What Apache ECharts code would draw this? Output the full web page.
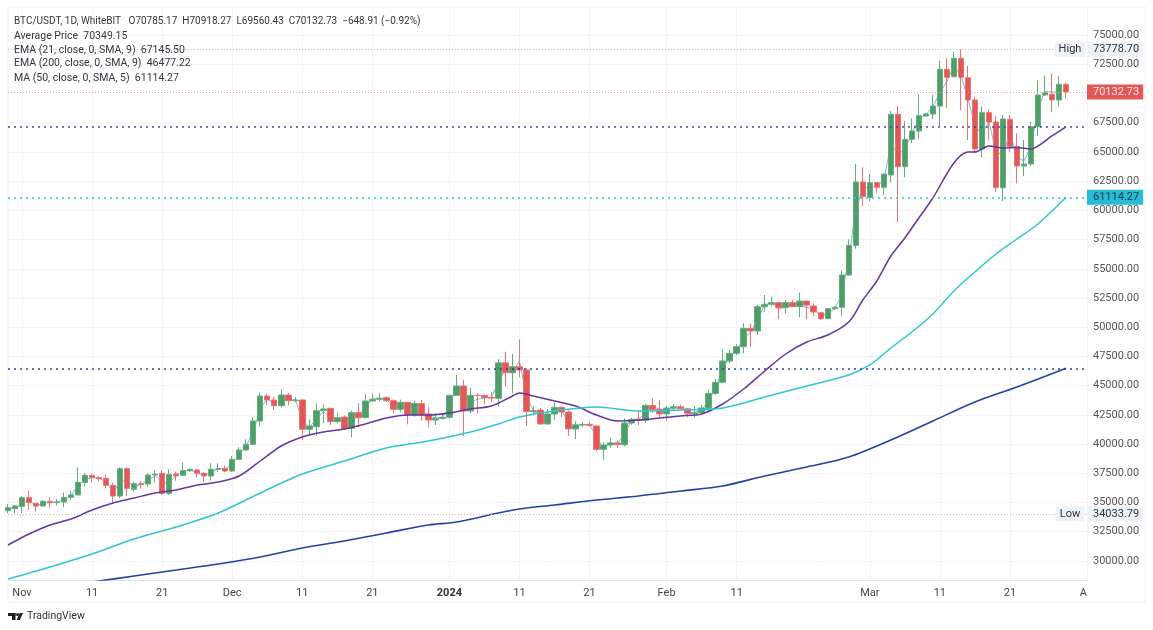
<!DOCTYPE html>
<html>
<head>
<meta charset="utf-8">
<title>BTC/USDT</title>
<script src="https://cdn.jsdelivr.net/npm/echarts@6/dist/echarts.min.js"></script>
<style>
    html, body { margin: 0; padding: 0; background: #fff; }
    #main { width: 1153px; height: 630px; }
</style>
</head>
<body>
<div id="main"></div>
<script>
// daily candles, Oct 30 2023 to Mar 29 2024
var opens = [
    34300, 34473, 34672, 35414, 34929, 34700, 35100, 34990, 35043, 35442, 35642, 36726, 37325, 37130, 37068, 36470,
    35557, 37895, 36130, 36612, 36583, 37353, 37496, 35785, 37440, 37325, 37724, 37781, 37496, 37268, 37838, 37924,
    37695, 38694, 39492, 39977, 41973, 44113, 43770, 43285, 44198, 43713, 43770, 41260, 41488, 42858, 43057, 41916,
    42316, 41346, 42686, 42259, 43685, 43827, 43970, 43713, 42972, 43571, 42487, 43457, 42573, 42059, 42195, 42287,
    44170, 44969, 42830, 44170, 44160, 43990, 43910, 46950, 46100, 46620, 46340, 42770, 42915, 41717, 42572, 43140,
    42740, 41290, 41640, 41690, 41545, 39550, 39920, 40100, 39940, 41800, 42120, 42030, 43300, 42960, 42580, 43080,
    43190, 43020, 42590, 42700, 43058, 44340, 45283, 47108, 47764, 48334, 49900, 49675, 51756, 51956, 52100, 51670,
    52100, 51756, 52240, 51814, 51243, 50730, 51586, 51700, 54466, 57000, 62423, 61111, 62366, 61966, 63021, 68212,
    63734, 66073, 66786, 68070, 68240, 68925, 72060, 71435, 73003, 71350, 69438, 65246, 68355, 67556, 61937, 67784,
    65446, 63792, 63963, 67157, 69866, 69923, 69438, 70785.17
];
var closes = [
    34560, 34700, 35414, 34986, 34700, 35100, 34990, 35050, 35442, 35642, 36726, 37325, 37130, 37040, 36470, 35557,
    37895, 36212, 36612, 36530, 37353, 37440, 35785, 37410, 37270, 37724, 37840, 37496, 37268, 37838, 37880, 37695,
    38694, 39492, 39977, 41973, 44113, 43770, 43285, 44198, 43713, 43770, 41260, 41546, 42858, 43000, 41916, 42259,
    41346, 42686, 42259, 43685, 43827, 43915, 43713, 42972, 43571, 42487, 43485, 42487, 42059, 42195, 42287, 44170,
    44970, 42830, 44170, 44160, 43990, 43930, 46950, 46100, 46620, 46340, 42770, 42860, 41717, 42572, 43140, 42740,
    41300, 41650, 41680, 41600, 39550, 39920, 40100, 39940, 41800, 42120, 42030, 43300, 42960, 42580, 43080, 43190,
    43020, 42590, 42700, 43090, 44340, 45283, 47108, 47764, 48334, 49900, 49675, 51756, 51956, 52100, 51670, 52100,
    51756, 52240, 51890, 51300, 50730, 51586, 51700, 54466, 57000, 62423, 61170, 62366, 61966, 63107, 68212, 63734,
    66073, 66786, 68098, 68240, 68925, 72060, 71378, 73003, 71378, 69438, 65246, 68355, 67556, 61937, 67813, 65446,
    63792, 63963, 67157, 69866, 70066, 69438, 70779, 70132.73
];
var lows = [
    34080, 34080, 34080, 34360, 34220, 34680, 34500, 34750, 34590, 35200, 35640, 36350, 36700, 36800, 36210, 35000,
    35360, 35557, 35930, 36200, 36350, 36700, 35640, 35640, 36870, 37250, 37600, 37150, 36780, 36870, 37640, 37580,
    37640, 38650, 39440, 39950, 41490, 43340, 42915, 43115, 43340, 43570, 40348, 40780, 40690, 41800, 41630, 41770,
    41200, 40576, 41430, 42200, 43630, 43630, 43600, 42687, 42772, 41688, 42345, 42000, 41430, 41630, 42115, 42180,
    44150, 40690, 42600, 42630, 43400, 43600, 43200, 44910, 44340, 45700, 41550, 42450, 41700, 41700, 42050, 42300,
    40700, 40420, 41460, 41500, 39400, 38650, 39700, 39680, 39810, 41650, 41620, 41800, 42680, 42300, 42000, 42800,
    42880, 42300, 42260, 42600, 42750, 44200, 45190, 46900, 47600, 47764, 48334, 49330, 51330, 51820, 50670, 51190,
    51756, 50840, 50670, 50960, 50610, 50680, 51470, 50960, 54400, 56720, 60370, 60750, 61510, 61310, 62366, 59000,
    62820, 65730, 66100, 68000, 67800, 67214, 68724, 71378, 68583, 66016, 64875, 64533, 66016, 61538, 60797, 65018,
    62309, 62936, 63792, 66358, 69780, 68440, 68868, 69560.43
];
var highs = [
    34850, 34800, 35560, 36010, 34980, 35200, 35440, 35300, 35840, 36000, 38010, 37500, 37420, 37250, 37440, 36700,
    38000, 37990, 36800, 36850, 37500, 37750, 37780, 37830, 37650, 38409, 37900, 37840, 37600, 38350, 38350, 38150,
    38980, 39720, 40400, 42300, 44400, 44280, 44050, 44683, 44370, 44050, 43830, 42115, 43485, 43400, 43090, 42700,
    42430, 42860, 43485, 44284, 44284, 44340, 44090, 43830, 43800, 43600, 43700, 43770, 43150, 42630, 42650, 44180,
    45910, 45500, 44800, 44370, 44230, 44440, 47250, 47900, 47710, 48960, 46500, 43250, 43100, 43000, 43575, 43200,
    42900, 41950, 41900, 41880, 41640, 40150, 40550, 40300, 42200, 42250, 42840, 43430, 43900, 43770, 43270, 43420,
    43380, 43100, 43250, 43350, 44700, 45600, 48135, 48050, 48560, 50330, 50330, 51900, 52755, 52600, 52100, 52330,
    52330, 52960, 52240, 52040, 51300, 51620, 51800, 54840, 57520, 63963, 63700, 63108, 62400, 63107, 68497, 68925,
    67640, 67870, 69923, 68350, 69870, 72800, 73003, 73574, 73778.7, 72347, 69723, 68868, 68640, 68070, 68155, 68155,
    66586, 66016, 67585, 71093, 71520, 71720, 71492, 70918.27
];
// Average Price line, one value per candle
var avgPrice = [
    34450, 34510, 34930, 35190, 34710, 34920, 35010, 35020, 35230, 35570, 36500, 36950, 37140, 37060, 36800, 35850,
    36800, 36900, 36370, 36550, 36900, 37310, 36700, 36670, 37310, 37680, 37770, 37570, 37290, 37580, 37930, 37840,
    38250, 39140, 39830, 41050, 43000, 43880, 43500, 43720, 43860, 43810, 42050, 41440, 42130, 42770, 42370, 42150,
    41820, 41870, 42430, 43110, 43860, 43930, 43840, 43200, 43280, 42840, 43000, 42900, 42450, 42220, 42310, 43200,
    44950, 43500, 43600, 43830, 43950, 44000, 45300, 46400, 46200, 47100, 44150, 42830, 42400, 42250, 42830, 42840,
    41900, 41400, 41680, 41670, 40600, 39570, 40100, 40000, 40950, 41950, 42150, 42610, 43200, 43000, 42900, 43100,
    43120, 42750, 42700, 42950, 43700, 44840, 46400, 47500, 48000, 49090, 49560, 50670, 51900, 52100, 51500, 51780,
    51980, 51800, 51700, 51530, 50950, 51150, 51620, 52750, 55850, 60000, 61950, 61950, 62060, 62600, 65600, 64900,
    65100, 66600, 67800, 68170, 68900, 70000, 71050, 72300, 71600, 69550, 67300, 66500, 67600, 65000, 64700, 66600,
    64600, 64200, 65500, 68600, 70200, 70100, 70150, 70349.15
];

// indicator lines, read at these candle numbers
var ema21Days = [0, 3, 6, 9, 12, 15, 18, 21, 24, 27, 30, 33, 36, 39, 42, 45, 48, 51, 54, 57, 60, 63, 66, 69, 72, 73, 75, 78, 81, 84, 87, 90, 93, 96, 99, 102, 105, 108, 111, 114, 117, 120, 122, 124, 126, 128, 130, 132, 135, 137, 138, 140, 142, 144, 146, 147, 149, 151];
var ema21Vals = [31365, 32305, 33076, 33589, 34359, 34958, 35386, 35813, 36071, 36499, 36755, 37269, 38552, 39835, 40605, 41033, 41288, 41717, 42231, 42488, 42488, 42659, 43001, 43258, 44113, 44370, 44113, 43686, 43258, 42488, 41974, 42060, 42231, 42402, 42573, 43429, 44712, 46253, 47706, 48734, 49332, 50445, 52327, 53953, 56091, 57632, 59343, 61054, 64049, 64990, 64990, 65503, 65332, 65370, 65247, 65503, 66359, 67145.5];
var ma50Days = [0, 6, 12, 18, 24, 30, 36, 42, 48, 54, 60, 66, 70, 73, 78, 84, 90, 96, 102, 108, 114, 120, 123, 126, 129, 132, 135, 138, 141, 144, 147, 151];
var ma50Vals = [28456, 29482, 30594, 31878, 32905, 34103, 35813, 37439, 38552, 39665, 40264, 41033, 41717, 42316, 42829, 43172, 42829, 42915, 43086, 44027, 44969, 45910, 46766, 48220, 49589, 51129, 53097, 54722, 56263, 57546, 58829, 61114.27];
var ema200Days = [12, 18, 24, 30, 36, 42, 48, 54, 60, 64, 70, 73, 78, 84, 90, 96, 102, 108, 114, 120, 126, 132, 138, 144, 151];
var ema200Vals = [28200, 28713, 29225, 29739, 30338, 31109, 31708, 32391, 33076, 33331, 34103, 34445, 34787, 35215, 35558, 35985, 36413, 37269, 38039, 38894, 40350, 41974, 43600, 44883, 46477.22];

// axes
var priceTicks = [30000, 32500, 35000, 37500, 40000, 42500, 45000, 47500, 50000, 52500, 55000, 57500, 60000, 62500, 65000, 67500, 72500, 75000];
var dateTickDays = [2, 12, 22, 32, 42, 52, 63, 73, 83, 94, 104, 123, 133, 143, 154];
var dateTickText = ['Nov', '11', '21', 'Dec', '11', '21', '2024', '11', '21', 'Feb', '11', 'Mar', '11', '21', 'A'];

var highPrice = 73778.70, lowPrice = 34033.79, lastPrice = 70132.73;
var ema21Last = 67145.50, ema200Last = 46477.22, ma50Last = 61114.27;

var upColor = '#4f9e69', downColor = '#e25757';
var fontName = 'Roboto, sans-serif';

var categories = [];
for (var d = 0; d <= 154; d++) {
    var day = new Date(2023, 9, 30 + d);
    categories.push(day.getFullYear() + '-' + (day.getMonth() + 1) + '-' + day.getDate());
}

function pairs(days, vals) {
    return days.map(function (x, i) { return [x, vals[i]]; });
}

function isDateTick(index) {
    return dateTickDays.indexOf(index) >= 0;
}

function levelLine(value, color, type, width, labelBg, labelColor) {
    return {
        yAxis: value,
        lineStyle: { color: color, type: type, width: width },
        label: {
            show: true,
            position: 'end',
            distance: 0,
            formatter: value.toFixed(2),
            fontFamily: fontName,
            fontSize: 11,
            color: labelColor,
            backgroundColor: labelBg,
            padding: [2, 4, 2, 6]
        }
    };
}

function levelBadge(name, value) {
    return {
        coord: [152, value],
        symbol: 'rect',
        symbolSize: 1,
        itemStyle: { color: 'rgba(0,0,0,0)' },
        label: {
            show: true,
            position: 'inside',
            offset: [-3, 0],
            formatter: name,
            fontFamily: fontName,
            fontSize: 11,
            color: '#333',
            backgroundColor: '#edf2f9',
            padding: [2, 4, 2, 4]
        }
    };
}

function legendLine(y, text, rich, size) {
    return {
        type: 'text',
        left: 14,
        top: y,
        silent: true,
        z: 100,
        style: { text: text, rich: rich, fontFamily: fontName, fontSize: size || 10.5, fill: '#33363d' }
    };
}

function valueStyle(color) {
    return { v: { fontFamily: fontName, fontSize: 10.5, color: color } };
}

var myChart = echarts.init(document.getElementById('main'));
var option = {
    animation: false,
    backgroundColor: '#fff',
    grid: { left: 8, right: 66, top: 8, bottom: 50, containLabel: false },
    xAxis: {
        type: 'category',
        data: categories,
        boundaryGap: false,
        axisLine: { lineStyle: { color: '#e2e5eb' } },
        axisTick: { show: false },
        splitLine: { show: true, interval: function (i) { return isDateTick(i); }, lineStyle: { color: '#f3f4f7' } },
        axisLabel: {
            interval: function (i) { return isDateTick(i); },
            alignMaxLabel: 'right',
            margin: 8,
            fontFamily: fontName,
            fontSize: 11,
            color: '#444',
            formatter: function (value, index) {
                var t = dateTickText[dateTickDays.indexOf(index)];
                return t === '2024' ? '{b|' + t + '}' : t;
            },
            rich: { b: { fontFamily: fontName, fontSize: 11, fontWeight: 'bold', color: '#333' } }
        }
    },
    yAxis: {
        type: 'value',
        position: 'right',
        min: 28370,
        max: 77310,
        axisLine: { show: false },
        axisTick: { show: false, customValues: priceTicks },
        splitLine: { lineStyle: { color: '#f3f4f7' } },
        axisLabel: {
            customValues: priceTicks,
            margin: 6,
            padding: [4, 0, 0, 0],
            fontFamily: fontName,
            fontSize: 11,
            color: '#555',
            formatter: function (v) { return v.toFixed(2); }
        }
    },
    series: [
        {
            name: 'Average Price',
            type: 'line',
            data: avgPrice,
            showSymbol: false,
            lineStyle: { color: '#7db4da', width: 1 },
            z: 2
        },
        {
            name: 'BTC/USDT',
            type: 'candlestick',
            data: opens.map(function (o, i) { return [o, closes[i], lows[i], highs[i]]; }),
            barWidth: 6,
            itemStyle: { color: upColor, color0: downColor, borderColor: '#66ad7e', borderColor0: '#e87474', borderWidth: 1 },
            z: 3,
            markLine: {
                silent: true,
                symbol: 'none',
                animation: false,
                data: [
                    levelLine(highPrice, '#b9bcc2', [1, 2], 1, '#edf2f9', '#333'),
                    levelLine(lowPrice, '#b9bcc2', [1, 2], 1, '#edf2f9', '#333'),
                    levelLine(lastPrice, '#e8a0a0', [1, 2], 1, '#e25757', '#fbe9e9'),
                    levelLine(ema21Last, '#5b3ea0', [2, 4], 1.5, 'rgba(0,0,0,0)', 'rgba(0,0,0,0)'),
                    levelLine(ma50Last, '#2cc0d4', [2, 4], 1.5, '#26bcd6', '#173a44'),
                    levelLine(ema200Last, '#2b3f9e', [2, 4], 1.5, 'rgba(0,0,0,0)', 'rgba(0,0,0,0)')
                ]
            },
            markPoint: {
                silent: true,
                animation: false,
                data: [levelBadge('High', highPrice), levelBadge('Low', lowPrice)]
            }
        },
        {
            name: 'EMA 21',
            type: 'line',
            data: pairs(ema21Days, ema21Vals),
            showSymbol: false,
            smooth: 0.3,
            lineStyle: { color: '#64379f', width: 1.5 },
            z: 4
        },
        {
            name: 'MA 50',
            type: 'line',
            data: pairs(ma50Days, ma50Vals),
            showSymbol: false,
            smooth: 0.3,
            lineStyle: { color: '#2ec6d0', width: 1.5 },
            z: 4
        },
        {
            name: 'EMA 200',
            type: 'line',
            data: pairs(ema200Days, ema200Vals),
            showSymbol: false,
            smooth: 0.3,
            lineStyle: { color: '#2242a6', width: 1.6 },
            z: 4
        }
    ],
    graphic: [
        { type: 'rect', silent: true, z: -1, shape: { x: 8, y: 7, width: 1137, height: 595 }, style: { fill: 'none', stroke: '#eef0f3' } },
        legendLine(16, 'BTC/USDT, 1D, WhiteBIT   O{r|70785.17}  H{r|70918.27}  L{r|69560.43}  C{r|70132.73}  {r|\u2212648.91 (\u22120.92%)}', {
            r: { fontFamily: fontName, fontSize: 10, color: '#e06464' }
        }, 10),
        legendLine(31, 'Average Price  {v|70349.15}', valueStyle('#4a9fdc')),
        legendLine(45, 'EMA (21, close, 0, SMA, 9)  {v|67145.50}', valueStyle('#6a47ad')),
        legendLine(58, 'EMA (200, close, 0, SMA, 9)  {v|46477.22}', valueStyle('#3f55b5')),
        legendLine(73, 'MA (50, close, 0, SMA, 5)  {v|61114.27}', valueStyle('#2fc0cc')),
        // TradingView mark
        { type: 'rect', silent: true, shape: { x: 8, y: 613, width: 7.5, height: 3 }, style: { fill: '#1c1f26' } },
        { type: 'rect', silent: true, shape: { x: 12, y: 613, width: 3.5, height: 7 }, style: { fill: '#1c1f26' } },
        { type: 'circle', silent: true, shape: { cx: 17.5, cy: 614.4, r: 1.5 }, style: { fill: '#1c1f26' } },
        { type: 'polygon', silent: true, shape: { points: [[19.8, 613], [23, 613], [19.8, 620], [16.6, 620]] }, style: { fill: '#1c1f26' } },
        { type: 'text', left: 27, top: 611, silent: true, style: { text: 'TradingView', fontFamily: fontName, fontSize: 10.5, fill: '#2e3138' } }
    ]
};
myChart.setOption(option);
</script>
</body>
</html>
